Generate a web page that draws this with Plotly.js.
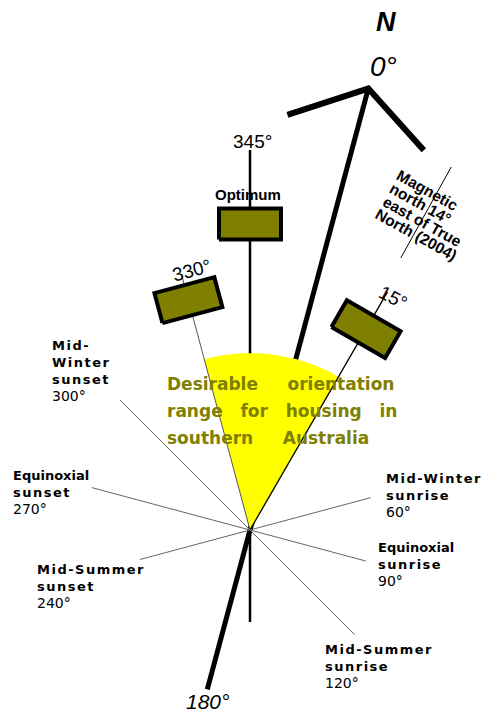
<!DOCTYPE html>
<html>
<head>
<meta charset="utf-8">
<script src="https://cdn.plot.ly/plotly-3.0.1.min.js"></script>
<style>
  html, body { margin: 0; padding: 0; background: #fff; }
  #chart { width: 484px; height: 715px; }
</style>
</head>
<body>
<div id="chart"></div>
<script>
// ---------------- DATA ----------------
// Bearings (degrees, clockwise from true north)
const trueNorthBearing = 0;
const trueSouthBearing = 180;
const magneticDeclination = 14;            // magnetic north 14° east of true north (2004)
const rangeStartBearing = 330;             // desirable orientation range start
const optimumBearing = 345;                // optimum orientation
const rangeEndBearing = 15;                // desirable orientation range end
const orientationBearings = [330, 345, 15];
const orientationLabels = ['330°', '345°', '15°'];

const sunBearings = [300, 270, 240, 60, 90, 120];
const sunEventNames = [
  ['Mid-', 'Winter', 'sunset'],
  ['Equinoxial', 'sunset'],
  ['Mid-Summer', 'sunset'],
  ['Mid-Winter', 'sunrise'],
  ['Equinoxial', 'sunrise'],
  ['Mid-Summer', 'sunrise']
];
const sunDegreeLabels = ['300°', '270°', '240°', '60°', '90°', '120°'];

const rangeText = ['Desirable\u00a0\u00a0\u00a0\u00a0\u00a0orientation',
                   'range\u00a0\u00a0\u00a0for\u00a0\u00a0\u00a0housing\u00a0\u00a0\u00a0in',
                   'southern\u00a0\u00a0\u00a0\u00a0\u00a0Australia'];
const magneticText = ['Magnetic', 'north 14°', 'east of True', 'North (2004)'];

// ---------------- LAYOUT / GEOMETRY ----------------
const ROT = 15;   // drawing rotated so that 345° points straight up
function pt(bearing, r) {
  const a = (bearing + ROT) * Math.PI / 180;
  return [r * Math.sin(a), r * Math.cos(a)];
}
function seg(b, r0, r1) {
  const p0 = pt(b, r0), p1 = pt(b, r1);
  return {x: [p0[0], p1[0]], y: [p0[1], p1[1]]};
}
const sunLineLen = [184, 164, 114, 125, 120, 148];
const wedgeR = 177;
const boxR = {330: 238, 345: 306, 15: 232};
const boxW = 62, boxH = 31;

const traces = [];
const base = {type: 'scatter', mode: 'lines', hoverinfo: 'skip', showlegend: false};

// optimum (345°) line
{ const s = seg(optimumBearing, -92, 380);
  traces.push(Object.assign({}, base, s, {line: {color: '#000', width: 2.5}})); }
// true north-south axis
{ const s = seg(trueNorthBearing, 0, 457), s2 = seg(trueSouthBearing, 0, 165);
  traces.push(Object.assign({}, base, {x: [s2.x[1], s.x[1]], y: [s2.y[1], s.y[1]]}, {line: {color: '#000', width: 5}})); }
// north arrow head
{ const tip = pt(trueNorthBearing, 457);
  const l = pt(trueSouthBearing + 57, 85), r = pt(trueSouthBearing - 57, 83);
  traces.push(Object.assign({}, base, {
    x: [tip[0] + l[0], tip[0], tip[0] + r[0]],
    y: [tip[1] + l[1], tip[1], tip[1] + r[1]],
    line: {color: '#000', width: 6}
  }));
}
// desirable wedge
{ const wx = [0], wy = [0];
  const span = (rangeEndBearing - rangeStartBearing + 360) % 360;
  for (let i = 0; i <= span; i += 0.5) {
    const p = pt(rangeStartBearing + i, wedgeR); wx.push(p[0]); wy.push(p[1]);
  }
  wx.push(0); wy.push(0);
  traces.push(Object.assign({}, base, {x: wx, y: wy, fill: 'toself', fillcolor: '#ffff00', line: {width: 0, color: '#ffff00'}}));
}
// range edge lines
{ const s = seg(rangeStartBearing, 0, 265);
  traces.push(Object.assign({}, base, s, {line: {color: '#555', width: 1}})); }
{ const s = seg(rangeEndBearing, 0, 275);
  traces.push(Object.assign({}, base, s, {line: {color: '#000', width: 1.3}})); }
// sun lines
sunBearings.forEach((b, i) => {
  const s = seg(b, 0, sunLineLen[i]);
  traces.push(Object.assign({}, base, s, {line: {color: '#666', width: 1}}));
});
// magnetic north line
{ const s = seg(magneticDeclination, 311, 415);
  traces.push(Object.assign({}, base, s, {line: {color: '#000', width: 1}})); }
// orientation boxes
orientationBearings.forEach(b => {
  const c = pt(b, boxR[b]);
  const a = (b + ROT) * Math.PI / 180;
  const v = [Math.sin(a), Math.cos(a)], u = [Math.cos(a), -Math.sin(a)];
  const xs = [], ys = [];
  [[-1, -1], [1, -1], [1, 1], [-1, 1], [-1, -1]].forEach(([su, sv]) => {
    xs.push(c[0] + su * boxW / 2 * u[0] + sv * boxH / 2 * v[0]);
    ys.push(c[1] + su * boxW / 2 * u[1] + sv * boxH / 2 * v[1]);
  });
  traces.push(Object.assign({}, base, {x: xs, y: ys, fill: 'toself', fillcolor: '#808000',
    line: {color: '#000', width: 4}}));
});

// ---------------- ANNOTATIONS ----------------
const ann = [];
const A = (o) => Object.assign({xref: 'x', yref: 'y', showarrow: false}, o);
const arial = 'Liberation Sans, Arial, sans-serif';
const deja = 'DejaVu Sans, Verdana, sans-serif';

ann.push(A({x: 136, y: 508, text: '<b><i>N</i></b>', font: {family: arial, size: 27, color: '#000'}}));
ann.push(A({x: 133, y: 464, text: '<i>' + trueNorthBearing + '°</i>', font: {family: arial, size: 28, color: '#000'}}));
ann.push(A({x: -43, y: -171, text: '<i>' + trueSouthBearing + '°</i>', font: {family: arial, size: 21, color: '#000'}}));
ann.push(A({x: 2, y: 389, text: orientationLabels[1], font: {family: arial, size: 19, color: '#000'}}));
ann.push(A({x: -2, y: 336, text: 'Optimum', font: {family: arial, size: 15, color: '#000', weight: 700}}));
ann.push(A({x: -59, y: 260, text: orientationLabels[0], textangle: -15, font: {family: arial, size: 19, color: '#000'}}));
ann.push(A({x: 143, y: 233, text: orientationLabels[2], textangle: 28, font: {family: arial, size: 19, color: '#000'}}));

// magnetic north note
const magPos = [[178, 340], [170.5, 327], [172.5, 309], [166, 295.5]];
magneticText.forEach((t, i) => {
  ann.push(A({x: magPos[i][0], y: magPos[i][1], text: t, textangle: 29,
    font: {family: arial, size: 15.5, color: '#000', weight: 700}}));
});

// desirable range text
const rangeY = [146, 119, 92];
rangeText.forEach((t, i) => {
  ann.push(A({x: -85, y: rangeY[i], xanchor: 'left', yanchor: 'middle', text: t,
    font: {family: deja, size: 17, color: '#808000', weight: 700}}));
});

// sun labels
const sunPos = [[-200, 194], [-239, 64], [-215, -30], [134, 61], [126, -8], [73, -110]];
sunBearings.forEach((b, i) => {
  const lines = sunEventNames[i].map(s => s === 'Equinoxial'
      ? '<span style="font-weight:bold">' + s + '</span>'
      : '<span style="font-weight:bold;letter-spacing:1.5px">' + s + '</span>');
  lines.push('<span style="font-size:14px">' + sunDegreeLabels[i] + '</span>');
  ann.push(A({x: sunPos[i][0], y: sunPos[i][1], xanchor: 'left', yanchor: 'top', align: 'left',
    text: lines.join('<br>'), font: {family: deja, size: 13, color: '#000'}}));
});

const layout = {
  width: 484, height: 715,
  margin: {l: 0, r: 0, t: 0, b: 0, pad: 0},
  paper_bgcolor: '#fff', plot_bgcolor: '#fff',
  xaxis: {range: [-250, 234], visible: false, fixedrange: true},
  yaxis: {range: [-185, 530], visible: false, fixedrange: true},
  showlegend: false,
  annotations: ann
};
Plotly.newPlot('chart', traces, layout, {staticPlot: true, displayModeBar: false});
</script>
</body>
</html>
